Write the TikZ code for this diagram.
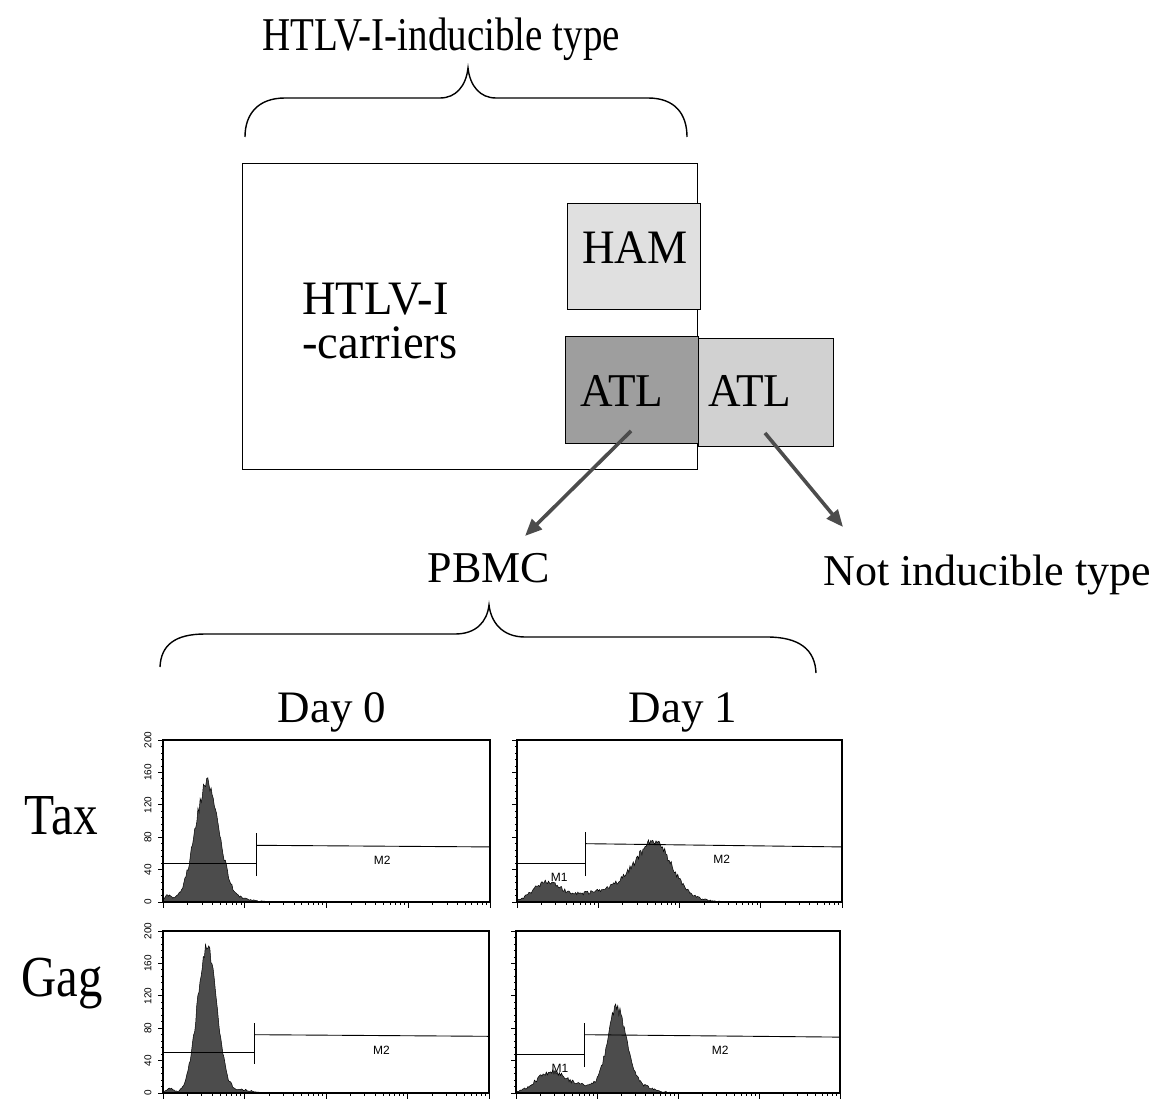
\documentclass[tikz,border=0pt]{standalone}
\usepackage{fontspec}
\setmainfont{Liberation Serif}
\newfontfamily\histfont{Liberation Sans}
\usetikzlibrary{arrows.meta}
\definecolor{hamfill}{gray}{0.88}
\definecolor{atldarkfill}{gray}{0.62}
\definecolor{atllightfill}{gray}{0.82}
\definecolor{arrowgray}{gray}{0.30}
\definecolor{histgray}{gray}{0.30}

\newcommand\sx[2]{\scalebox{#1}[1]{#2}}
\newcommand\fsz[1]{\fontsize{#1}{#1}\selectfont}

\newcommand\panelaxes{%
  \draw[panelframe] (0,0) rectangle (1,200);
  \foreach \v in {0,8,...,200} \draw[tickmark] (0,\v) -- ++(-2.5pt,0);
  \foreach \v in {0,40,...,200} \draw[tickmark] (0,\v) -- ++(-5pt,0);
  \foreach \d in {0,1,2,3} {\foreach \k in {2,...,9} {\draw[tickmark] ({(\d+log10(\k))/4},0) -- ++(0,-3pt);}}
  \foreach \d in {0,...,4} \draw[tickmark] (\d/4,0) -- ++(0,-6pt);
}
\newcommand\panellabels[1]{%
  \foreach \v in {0,40,...,200} \node[ylab] (#1\v) at (-15pt,\v) {\v};
}
% m1y, gate x, lo, hi, m2 start y, m2 end y
\newcommand\gatelines[6]{%
  \draw[gateline] (0,#1-16) -- (0,#1+16);
  \draw[gateline] (0,#1) -- (#2,#1);
  \draw[gateline] (#2,#3) -- (#2,#4);
  \draw[gateline] (#2,#5) -- (1,#6);
}

\begin{document}
\begin{tikzpicture}[x=1pt,y=-1pt,
  lbl/.style={inner sep=0pt,anchor=base},
  box/.style={draw=black,line width=1.3pt,inner sep=0pt,anchor=north west},
  bracepath/.style={draw=black,line width=1.4pt},
  arr/.style={draw=arrowgray,line width=3.6pt,-{Triangle[length=17pt,width=14pt]}},
  panelframe/.style={draw=black,line width=1.1pt},
  tickmark/.style={draw=black,line width=0.8pt},
  gateline/.style={draw=black,line width=0.9pt},
  histarea/.style={fill=histgray,draw=black,line width=0.5pt},
  ylab/.style={font=\histfont\fsz{10},rotate=90,inner sep=0pt},
  mlab/.style={font=\histfont\fsz{12},inner sep=0pt},
  declare function={
    gs(\x,\c,\s,\a)=\a*exp(max(-9,-((\x-\c)^2)/(2*\s*\s)));
    nz(\v)=max(0,\v+0.6*rand*sqrt(\v));
    ftl(\x)=gs(\x,0.135,0.037,146)+gs(\x,0.015,0.012,7)+gs(\x,0.24,0.04,3);
    ftr(\x)=gs(\x,0.09,0.04,22)+gs(\x,0.25,0.1,11)+gs(\x,0.43,0.05,55)+gs(\x,0.37,0.06,22)+gs(\x,0.5,0.06,5);
    fbl(\x)=gs(\x,0.135,0.03,180)+gs(\x,0.02,0.012,5)+gs(\x,0.24,0.03,4);
    fbr(\x)=gs(\x,0.105,0.045,24)+gs(\x,0.21,0.06,8)+gs(\x,0.31,0.028,92)+gs(\x,0.35,0.05,14);
  }]
\useasboundingbox (0,0) rectangle (1155,1099);

% title and brace
\node[lbl,font=\fsz{47}] (title) at (441,51) {\sx{0.83}{HTLV-I-inducible type}};
\draw[bracepath] (245,137) .. controls (245,114) and (258,98) .. (285,98) -- (440,98)
  .. controls (456,98) and (466,86) .. (468,68) .. controls (470,86) and (480,98) .. (496,98)
  -- (648,98) .. controls (675,98) and (687,114) .. (687,137);

% boxes
\node[box,minimum width=455pt,minimum height=306pt] (carrierbox) at (242,163) {};
\node[box,fill=hamfill,minimum width=133pt,minimum height=106pt] (hambox) at (567,203) {};
\node[box,fill=atldarkfill,minimum width=133pt,minimum height=107pt] (atldark) at (565,336) {};
\node[box,fill=atllightfill,minimum width=135pt,minimum height=108pt] (atllight) at (698,338) {};

\node[lbl,anchor=base west,font=\fsz{48}] (htlv) at (302,314) {\sx{0.97}{HTLV-I}};
\node[lbl,anchor=base west,font=\fsz{48}] (carriers) at (302,358) {\sx{0.97}{-carriers}};
\node[lbl,font=\fsz{48}] (ham) at (635,263) {\sx{0.94}{HAM}};
\node[lbl,font=\fsz{47}] (atl1) at (622,406) {\sx{0.96}{ATL}};
\node[lbl,font=\fsz{47}] (atl2) at (750,406) {\sx{0.96}{ATL}};

% arrows
\coordinate (a1s) at (631,431); \coordinate (a1e) at (525,536);
\coordinate (a2s) at (765,433); \coordinate (a2e) at (843,527);
\draw[arr] (a1s) -- (a1e);
\draw[arr] (a2s) -- (a2e);

\node[lbl,font=\fsz{44}] (pbmc) at (489,582) {PBMC};
\node[lbl,font=\fsz{44}] (notind) at (987,585) {Not inducible type};

% PBMC brace
\draw[bracepath] (160,667) .. controls (161,645) and (175,634) .. (205,634) -- (455,634)
  .. controls (476,634) and (487,622) .. (489,605) .. controls (491,622) and (502,637) .. (525,637)
  -- (767,637) .. controls (800,637) and (815,650) .. (816,673);

\node[lbl,font=\fsz{45}] (day0) at (332,722) {Day 0};
\node[lbl,font=\fsz{45}] (day1) at (683,722) {Day 1};
\node[lbl,font=\fsz{58}] (tax) at (61,834) {\sx{0.85}{Tax}};
\node[lbl,font=\fsz{58}] (gag) at (62,996) {\sx{0.84}{Gag}};

\pgfmathsetseed{7}
% Tax day 0
\begin{scope}[shift={(163pt,-902pt)},x=327pt,y=0.81pt]
  \draw[histarea] (0,0) -- plot[domain=0:1,samples=300] (\x,{nz(ftl(\x))}) -- (1,0) -- cycle;
  \gatelines{48}{0.287}{32}{85}{70}{68}
  \panelaxes
  \panellabels{tl}
  \node[mlab] (tlm2) at (0.67,52) {M2};
\end{scope}
% Tax day 1
\begin{scope}[shift={(517pt,-902pt)},x=325pt,y=0.81pt]
  \draw[histarea] (0,0) -- plot[domain=0:1,samples=300] (\x,{nz(ftr(\x))}) -- (1,0) -- cycle;
  \gatelines{47}{0.212}{32}{86}{72}{68}
  \panelaxes
  \node[mlab] (trm1) at (0.13,31) {M1};
  \node[mlab] (trm2) at (0.63,53) {M2};
\end{scope}
% Gag day 0
\begin{scope}[shift={(163pt,-1093pt)},x=326pt,y=0.81pt]
  \draw[histarea] (0,0) -- plot[domain=0:1,samples=300] (\x,{nz(fbl(\x))}) -- (1,0) -- cycle;
  \gatelines{50}{0.28}{36}{87}{72}{70}
  \panelaxes
  \panellabels{bl}
  \node[mlab] (blm2) at (0.67,53) {M2};
\end{scope}
% Gag day 1
\begin{scope}[shift={(516pt,-1093pt)},x=324pt,y=0.81pt]
  \draw[histarea] (0,0) -- plot[domain=0:1,samples=300] (\x,{nz(fbr(\x))}) -- (1,0) -- cycle;
  \gatelines{48}{0.21}{32}{87}{72}{69}
  \panelaxes
  \node[mlab] (brm1) at (0.136,31) {M1};
  \node[mlab] (brm2) at (0.63,53) {M2};
\end{scope}
\end{tikzpicture}
\end{document}
